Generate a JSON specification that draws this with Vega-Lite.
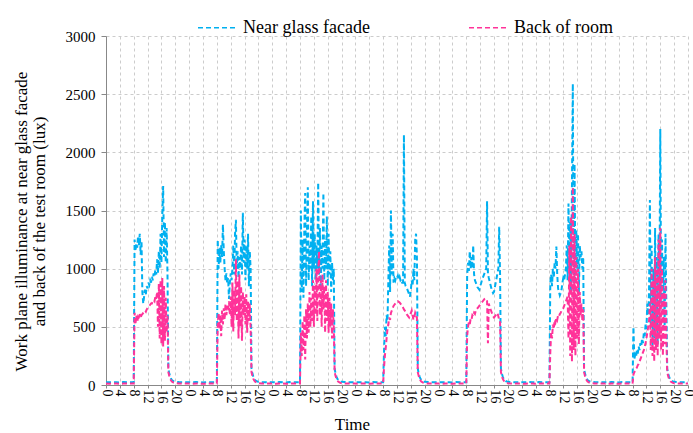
{
  "$schema": "https://vega.github.io/schema/vega-lite/v6.json",
  "width": 582,
  "height": 349,
  "autosize": {"type": "none"},
  "padding": {"left": 106, "top": 36, "right": 5, "bottom": 48},
  "background": "white",
  "config": {
    "view": {"stroke": null},
    "font": "Liberation Serif",
    "axis": {"labelFont": "Liberation Serif", "titleFont": "Liberation Serif"},
    "legend": {"labelFont": "Liberation Serif", "titleFont": "Liberation Serif"}
  },
  "data": {
    "values": [
      {"t":0,"n":24,"b":12},{"t":1,"n":23,"b":11},{"t":2,"n":25,"b":13},{"t":3,"n":24,"b":12},{"t":4,"n":22,"b":11},{"t":5,"n":25,"b":12},{"t":6,"n":24,"b":13},{"t":7,"n":23,"b":12},{"t":8,"n":24,"b":12},
      {"t":8.25,"n":1250,"b":620},{"t":8.5,"n":1150,"b":520},{"t":8.75,"n":1220,"b":600},{"t":9,"n":1180,"b":540},{"t":9.25,"n":1280,"b":580},{"t":9.5,"n":1200,"b":560},{"t":9.75,"n":1300,"b":610},{"t":10,"n":1120,"b":580},{"t":10.25,"n":1240,"b":600},{"t":10.5,"n":800,"b":610},{"t":10.75,"n":700,"b":620},{"t":11,"n":760,"b":630},{"t":11.25,"n":820,"b":640},{"t":11.5,"n":780,"b":630},{"t":11.75,"n":850,"b":650},{"t":12,"n":830,"b":660},{"t":12.25,"n":880,"b":670},{"t":12.5,"n":860,"b":680},{"t":12.75,"n":900,"b":690},{"t":13,"n":880,"b":700},{"t":13.25,"n":930,"b":700},{"t":13.5,"n":900,"b":720},{"t":13.75,"n":960,"b":730},{"t":14,"n":930,"b":720},{"t":14.25,"n":990,"b":760},{"t":14.5,"n":950,"b":740},{"t":14.75,"n":1080,"b":800},{"t":15,"n":960,"b":500},{"t":15.25,"n":1150,"b":870},{"t":15.5,"n":1000,"b":400},{"t":15.75,"n":1300,"b":900},{"t":16,"n":1050,"b":350},{"t":16.25,"n":1450,"b":920},{"t":16.5,"n":1710,"b":330},{"t":16.75,"n":1100,"b":850},{"t":17,"n":1400,"b":380},{"t":17.25,"n":1050,"b":750},{"t":17.5,"n":1350,"b":450},{"t":17.75,"n":950,"b":600},
      {"t":18,"n":140,"b":110},{"t":18.25,"n":100,"b":80},{"t":18.5,"n":75,"b":55},{"t":18.75,"n":55,"b":40},{"t":19,"n":42,"b":30},{"t":19.5,"n":32,"b":20},{"t":20,"n":27,"b":15},{"t":21,"n":25,"b":13},{"t":22,"n":24,"b":12},{"t":23,"n":23,"b":12},

      {"t":24,"n":24,"b":12},{"t":25,"n":23,"b":11},{"t":26,"n":25,"b":13},{"t":27,"n":24,"b":12},{"t":28,"n":22,"b":11},{"t":29,"n":25,"b":12},{"t":30,"n":24,"b":13},{"t":31,"n":23,"b":12},{"t":32,"n":24,"b":12},
      {"t":32.25,"n":1250,"b":520},{"t":32.5,"n":1000,"b":620},{"t":32.75,"n":1180,"b":480},{"t":33,"n":1050,"b":600},{"t":33.25,"n":1200,"b":420},{"t":33.5,"n":1100,"b":640},{"t":33.75,"n":1380,"b":520},{"t":34,"n":1150,"b":660},{"t":34.25,"n":1000,"b":560},{"t":34.5,"n":900,"b":700},{"t":34.75,"n":960,"b":600},{"t":35,"n":870,"b":680},{"t":35.25,"n":920,"b":640},{"t":35.5,"n":740,"b":720},{"t":35.75,"n":880,"b":600},{"t":36,"n":960,"b":760},{"t":36.25,"n":900,"b":500},{"t":36.5,"n":1000,"b":880},{"t":36.75,"n":1200,"b":460},{"t":37,"n":950,"b":820},{"t":37.25,"n":1300,"b":600},{"t":37.5,"n":1420,"b":1080},{"t":37.75,"n":1000,"b":550},{"t":38,"n":1150,"b":900},{"t":38.25,"n":920,"b":400},{"t":38.5,"n":1100,"b":950},{"t":38.75,"n":1000,"b":500},{"t":39,"n":1200,"b":850},{"t":39.25,"n":950,"b":380},{"t":39.5,"n":1480,"b":800},{"t":39.75,"n":1050,"b":600},{"t":40,"n":1250,"b":760},{"t":40.25,"n":900,"b":520},{"t":40.5,"n":1200,"b":780},{"t":40.75,"n":1000,"b":450},{"t":41,"n":1300,"b":720},{"t":41.25,"n":850,"b":550},{"t":41.5,"n":1150,"b":700},{"t":41.75,"n":1000,"b":480},
      {"t":42,"n":140,"b":110},{"t":42.25,"n":100,"b":80},{"t":42.5,"n":75,"b":55},{"t":42.75,"n":55,"b":40},{"t":43,"n":42,"b":30},{"t":43.5,"n":32,"b":20},{"t":44,"n":27,"b":15},{"t":45,"n":25,"b":13},{"t":46,"n":24,"b":12},{"t":47,"n":23,"b":12},

      {"t":48,"n":24,"b":12},{"t":49,"n":23,"b":11},{"t":50,"n":25,"b":13},{"t":51,"n":24,"b":12},{"t":52,"n":22,"b":11},{"t":53,"n":25,"b":12},{"t":54,"n":24,"b":13},{"t":55,"n":23,"b":12},{"t":56,"n":24,"b":12},
      {"t":56.25,"n":1500,"b":450},{"t":56.5,"n":800,"b":250},{"t":56.75,"n":1250,"b":550},{"t":57,"n":750,"b":300},{"t":57.25,"n":1350,"b":600},{"t":57.5,"n":1650,"b":220},{"t":57.75,"n":850,"b":650},{"t":58,"n":1300,"b":400},{"t":58.25,"n":1700,"b":700},{"t":58.5,"n":900,"b":450},{"t":58.75,"n":1200,"b":800},{"t":59,"n":1000,"b":500},{"t":59.25,"n":1450,"b":750},{"t":59.5,"n":850,"b":550},{"t":59.75,"n":1580,"b":900},{"t":60,"n":1000,"b":500},{"t":60.25,"n":1300,"b":850},{"t":60.5,"n":900,"b":600},{"t":60.75,"n":1200,"b":1000},{"t":61,"n":1000,"b":550},{"t":61.25,"n":1740,"b":950},{"t":61.5,"n":950,"b":1150},{"t":61.75,"n":1350,"b":600},{"t":62,"n":850,"b":900},{"t":62.25,"n":1200,"b":500},{"t":62.5,"n":1000,"b":950},{"t":62.75,"n":1650,"b":650},{"t":63,"n":900,"b":850},{"t":63.25,"n":1250,"b":450},{"t":63.5,"n":1000,"b":900},{"t":63.75,"n":1450,"b":550},{"t":64,"n":850,"b":800},{"t":64.25,"n":1300,"b":450},{"t":64.5,"n":950,"b":750},{"t":64.75,"n":1150,"b":500},{"t":65,"n":800,"b":700},{"t":65.25,"n":1050,"b":400},{"t":65.5,"n":900,"b":650},{"t":65.75,"n":1000,"b":500},
      {"t":66,"n":140,"b":110},{"t":66.25,"n":100,"b":80},{"t":66.5,"n":75,"b":55},{"t":66.75,"n":55,"b":40},{"t":67,"n":42,"b":30},{"t":67.5,"n":32,"b":20},{"t":68,"n":27,"b":15},{"t":69,"n":25,"b":13},{"t":70,"n":24,"b":12},{"t":71,"n":23,"b":12},

      {"t":72,"n":24,"b":12},{"t":73,"n":23,"b":11},{"t":74,"n":25,"b":13},{"t":75,"n":24,"b":12},{"t":76,"n":22,"b":11},{"t":77,"n":25,"b":12},{"t":78,"n":24,"b":13},{"t":79,"n":23,"b":12},{"t":80,"n":24,"b":12},
      {"t":80.25,"n":280,"b":150},{"t":80.5,"n":500,"b":250},{"t":80.75,"n":420,"b":320},{"t":81,"n":600,"b":400},{"t":81.25,"n":550,"b":480},{"t":81.5,"n":900,"b":520},{"t":81.75,"n":1200,"b":580},{"t":82,"n":800,"b":560},{"t":82.25,"n":1500,"b":620},{"t":82.5,"n":950,"b":640},{"t":82.75,"n":1300,"b":660},{"t":83,"n":880,"b":680},{"t":83.25,"n":920,"b":690},{"t":83.5,"n":900,"b":700},{"t":83.75,"n":930,"b":710},{"t":84,"n":920,"b":715},{"t":84.25,"n":940,"b":720},{"t":84.5,"n":910,"b":715},{"t":84.75,"n":930,"b":710},{"t":85,"n":900,"b":700},{"t":85.25,"n":910,"b":690},{"t":85.5,"n":880,"b":680},{"t":85.75,"n":880,"b":665},{"t":86,"n":2150,"b":650},{"t":86.25,"n":880,"b":640},{"t":86.5,"n":850,"b":630},{"t":86.75,"n":840,"b":610},{"t":87,"n":820,"b":600},{"t":87.25,"n":800,"b":590},{"t":87.5,"n":780,"b":580},{"t":87.75,"n":760,"b":600},{"t":88,"n":820,"b":620},{"t":88.25,"n":900,"b":640},{"t":88.5,"n":850,"b":600},{"t":88.75,"n":1000,"b":560},{"t":89,"n":900,"b":580},{"t":89.25,"n":1250,"b":620},{"t":89.5,"n":1300,"b":600},{"t":89.75,"n":1100,"b":580},
      {"t":90,"n":140,"b":110},{"t":90.25,"n":100,"b":80},{"t":90.5,"n":75,"b":55},{"t":90.75,"n":55,"b":40},{"t":91,"n":42,"b":30},{"t":91.5,"n":32,"b":20},{"t":92,"n":27,"b":15},{"t":93,"n":25,"b":13},{"t":94,"n":24,"b":12},{"t":95,"n":23,"b":12},

      {"t":96,"n":24,"b":12},{"t":97,"n":23,"b":11},{"t":98,"n":25,"b":13},{"t":99,"n":24,"b":12},{"t":100,"n":22,"b":11},{"t":101,"n":25,"b":12},{"t":102,"n":24,"b":13},{"t":103,"n":23,"b":12},{"t":104,"n":24,"b":12},
      {"t":104.25,"n":940,"b":420},{"t":104.5,"n":1050,"b":500},{"t":104.75,"n":980,"b":540},{"t":105,"n":1150,"b":520},{"t":105.25,"n":1000,"b":570},{"t":105.5,"n":1100,"b":560},{"t":105.75,"n":1000,"b":600},{"t":106,"n":1200,"b":590},{"t":106.25,"n":950,"b":620},{"t":106.5,"n":900,"b":610},{"t":106.75,"n":880,"b":640},{"t":107,"n":860,"b":650},{"t":107.25,"n":840,"b":660},{"t":107.5,"n":830,"b":670},{"t":107.75,"n":820,"b":680},{"t":108,"n":850,"b":690},{"t":108.25,"n":870,"b":700},{"t":108.5,"n":900,"b":710},{"t":108.75,"n":920,"b":720},{"t":109,"n":940,"b":730},{"t":109.25,"n":960,"b":740},{"t":109.5,"n":980,"b":745},{"t":109.75,"n":1000,"b":740},{"t":110,"n":1580,"b":720},{"t":110.25,"n":960,"b":360},{"t":110.5,"n":920,"b":700},{"t":110.75,"n":890,"b":670},{"t":111,"n":860,"b":650},{"t":111.25,"n":830,"b":630},{"t":111.5,"n":810,"b":610},{"t":111.75,"n":790,"b":590},{"t":112,"n":800,"b":580},{"t":112.25,"n":840,"b":590},{"t":112.5,"n":880,"b":600},{"t":112.75,"n":920,"b":610},{"t":113,"n":960,"b":620},{"t":113.25,"n":1000,"b":590},{"t":113.5,"n":1360,"b":560},{"t":113.75,"n":950,"b":550},
      {"t":114,"n":140,"b":110},{"t":114.25,"n":100,"b":80},{"t":114.5,"n":75,"b":55},{"t":114.75,"n":55,"b":40},{"t":115,"n":42,"b":30},{"t":115.5,"n":32,"b":20},{"t":116,"n":27,"b":15},{"t":117,"n":25,"b":13},{"t":118,"n":24,"b":12},{"t":119,"n":23,"b":12},

      {"t":120,"n":24,"b":12},{"t":121,"n":23,"b":11},{"t":122,"n":25,"b":13},{"t":123,"n":24,"b":12},{"t":124,"n":22,"b":11},{"t":125,"n":25,"b":12},{"t":126,"n":24,"b":13},{"t":127,"n":23,"b":12},{"t":128,"n":24,"b":12},
      {"t":128.25,"n":880,"b":280},{"t":128.5,"n":950,"b":450},{"t":128.75,"n":850,"b":400},{"t":129,"n":1000,"b":520},{"t":129.25,"n":920,"b":480},{"t":129.5,"n":1050,"b":560},{"t":129.75,"n":1000,"b":540},{"t":130,"n":1190,"b":580},{"t":130.25,"n":950,"b":560},{"t":130.5,"n":830,"b":600},{"t":130.75,"n":800,"b":590},{"t":131,"n":770,"b":610},{"t":131.25,"n":790,"b":620},{"t":131.5,"n":820,"b":640},{"t":131.75,"n":880,"b":650},{"t":132,"n":920,"b":660},{"t":132.25,"n":900,"b":680},{"t":132.5,"n":950,"b":700},{"t":132.75,"n":1000,"b":720},{"t":133,"n":1200,"b":740},{"t":133.25,"n":900,"b":760},{"t":133.5,"n":1560,"b":400},{"t":133.75,"n":1000,"b":1200},{"t":134,"n":1400,"b":250},{"t":134.25,"n":800,"b":1450},{"t":134.5,"n":1700,"b":200},{"t":134.75,"n":2590,"b":1700},{"t":135,"n":700,"b":300},{"t":135.25,"n":1900,"b":1300},{"t":135.5,"n":900,"b":250},{"t":135.75,"n":1330,"b":1100},{"t":136,"n":1000,"b":400},{"t":136.25,"n":1300,"b":1000},{"t":136.5,"n":800,"b":350},{"t":136.75,"n":1200,"b":800},{"t":137,"n":1100,"b":600},{"t":137.25,"n":1150,"b":700},{"t":137.5,"n":1000,"b":550},{"t":137.75,"n":1100,"b":650},
      {"t":138,"n":140,"b":110},{"t":138.25,"n":100,"b":80},{"t":138.5,"n":75,"b":55},{"t":138.75,"n":55,"b":40},{"t":139,"n":42,"b":30},{"t":139.5,"n":32,"b":20},{"t":140,"n":27,"b":15},{"t":141,"n":25,"b":13},{"t":142,"n":24,"b":12},{"t":143,"n":23,"b":12},

      {"t":144,"n":24,"b":12},{"t":145,"n":23,"b":11},{"t":146,"n":25,"b":13},{"t":147,"n":24,"b":12},{"t":148,"n":22,"b":11},{"t":149,"n":25,"b":12},{"t":150,"n":24,"b":13},{"t":151,"n":23,"b":12},{"t":152,"n":24,"b":12},
      {"t":152.25,"n":500,"b":90},{"t":152.5,"n":220,"b":110},{"t":152.75,"n":260,"b":120},{"t":153,"n":240,"b":140},{"t":153.25,"n":300,"b":150},{"t":153.5,"n":270,"b":170},{"t":153.75,"n":330,"b":180},{"t":154,"n":300,"b":200},{"t":154.25,"n":360,"b":220},{"t":154.5,"n":330,"b":240},{"t":154.75,"n":400,"b":260},{"t":155,"n":360,"b":280},{"t":155.25,"n":450,"b":300},{"t":155.5,"n":420,"b":330},{"t":155.75,"n":520,"b":360},{"t":156,"n":480,"b":400},{"t":156.25,"n":700,"b":450},{"t":156.5,"n":600,"b":500},{"t":156.75,"n":800,"b":550},{"t":157,"n":1590,"b":700},{"t":157.25,"n":500,"b":300},{"t":157.5,"n":1200,"b":1000},{"t":157.75,"n":300,"b":250},{"t":158,"n":1000,"b":900},{"t":158.25,"n":400,"b":200},{"t":158.5,"n":1350,"b":1100},{"t":158.75,"n":500,"b":300},{"t":159,"n":1100,"b":1000},{"t":159.25,"n":350,"b":250},{"t":159.5,"n":1300,"b":1250},{"t":159.75,"n":800,"b":400},{"t":160,"n":2200,"b":1350},{"t":160.25,"n":700,"b":300},{"t":160.5,"n":1250,"b":1000},{"t":160.75,"n":600,"b":250},{"t":161,"n":1100,"b":800},{"t":161.25,"n":500,"b":350},{"t":161.5,"n":1300,"b":900},{"t":161.75,"n":700,"b":400},
      {"t":162,"n":140,"b":110},{"t":162.25,"n":100,"b":80},{"t":162.5,"n":75,"b":55},{"t":162.75,"n":55,"b":40},{"t":163,"n":42,"b":30},{"t":163.5,"n":32,"b":20},{"t":164,"n":27,"b":15},{"t":165,"n":25,"b":13},{"t":166,"n":24,"b":12},{"t":167,"n":23,"b":12},
      {"t":168,"n":24,"b":12}
    ]
  },
  "encoding": {
    "x": {
      "field": "t",
      "type": "quantitative",
      "scale": {"domain": [0, 168], "nice": false, "zero": false},
      "axis": {
        "values": [0,4,8,12,16,20,24,28,32,36,40,44,48,52,56,60,64,68,72,76,80,84,88,92,96,100,104,108,112,116,120,124,128,132,136,140,144,148,152,156,160,164,168],
        "labelExpr": "datum.value % 24",
        "labelAngle": 90,
        "labelFont": "Liberation Serif",
        "labelFontSize": 14,
        "labelColor": "#000000",
        "labelPadding": 1,
        "labelOverlap": false,
        "labelFlush": false,
        "labelBound": false,
        "tickSize": 3,
        "tickColor": "#888888",
        "domainColor": "#888888",
        "gridColor": "#cccccc",
        "gridDash": [3, 3],
        "title": "Time",
        "titleFont": "Liberation Serif",
        "titleFontSize": 17,
        "titleFontWeight": "normal",
        "titleColor": "#000000",
        "titleX": 246,
        "titleY": 44,
        "titleAlign": "center",
        "titleBaseline": "alphabetic"
      }
    }
  },
  "layer": [
    {
      "mark": {"type": "line", "strokeWidth": 2, "strokeDash": [5, 3]},
      "encoding": {
        "y": {
          "field": "n",
          "type": "quantitative",
          "scale": {"domain": [0, 3000], "nice": false},
          "axis": {
            "values": [0, 500, 1000, 1500, 2000, 2500, 3000],
            "format": "d",
            "labelFont": "Liberation Serif",
            "labelFontSize": 15,
            "labelColor": "#000000",
            "labelPadding": 6,
            "tickSize": 5,
            "tickColor": "#888888",
            "domainColor": "#888888",
            "gridColor": "#cccccc",
            "gridDash": [3, 3],
            "title": ["Work plane illuminance at near glass facade", "and back of the test room (lux)"],
            "titleFont": "Liberation Serif",
            "titleFontSize": 17,
            "titleFontWeight": "normal",
            "titleColor": "#000000",
            "titleLineHeight": 18,
            "titleAngle": -90,
            "titleAlign": "center",
            "titleBaseline": "top",
            "titleX": -93,
            "titleY": 185
          }
        },
        "color": {
          "datum": "Near glass facade",
          "type": "nominal",
          "scale": {"domain": ["Near glass facade", "Back of room"], "range": ["#00B0F0", "#FF3399"]},
          "legend": {
            "orient": "none",
            "direction": "horizontal",
            "legendX": 91,
            "legendY": -29,
            "title": null,
            "symbolType": "stroke",
            "symbolSize": 1521,
            "symbolStrokeWidth": 1.5,
            "symbolDash": [5, 3],
            "labelFont": "Liberation Serif",
            "labelFontSize": 18,
            "labelColor": "#000000",
            "labelOffset": 5,
            "columnPadding": 96
          }
        }
      }
    },
    {
      "mark": {"type": "line", "strokeWidth": 2, "strokeDash": [5, 3]},
      "encoding": {
        "y": {"field": "b", "type": "quantitative"},
        "color": {"datum": "Back of room", "type": "nominal"}
      }
    }
  ]
}
